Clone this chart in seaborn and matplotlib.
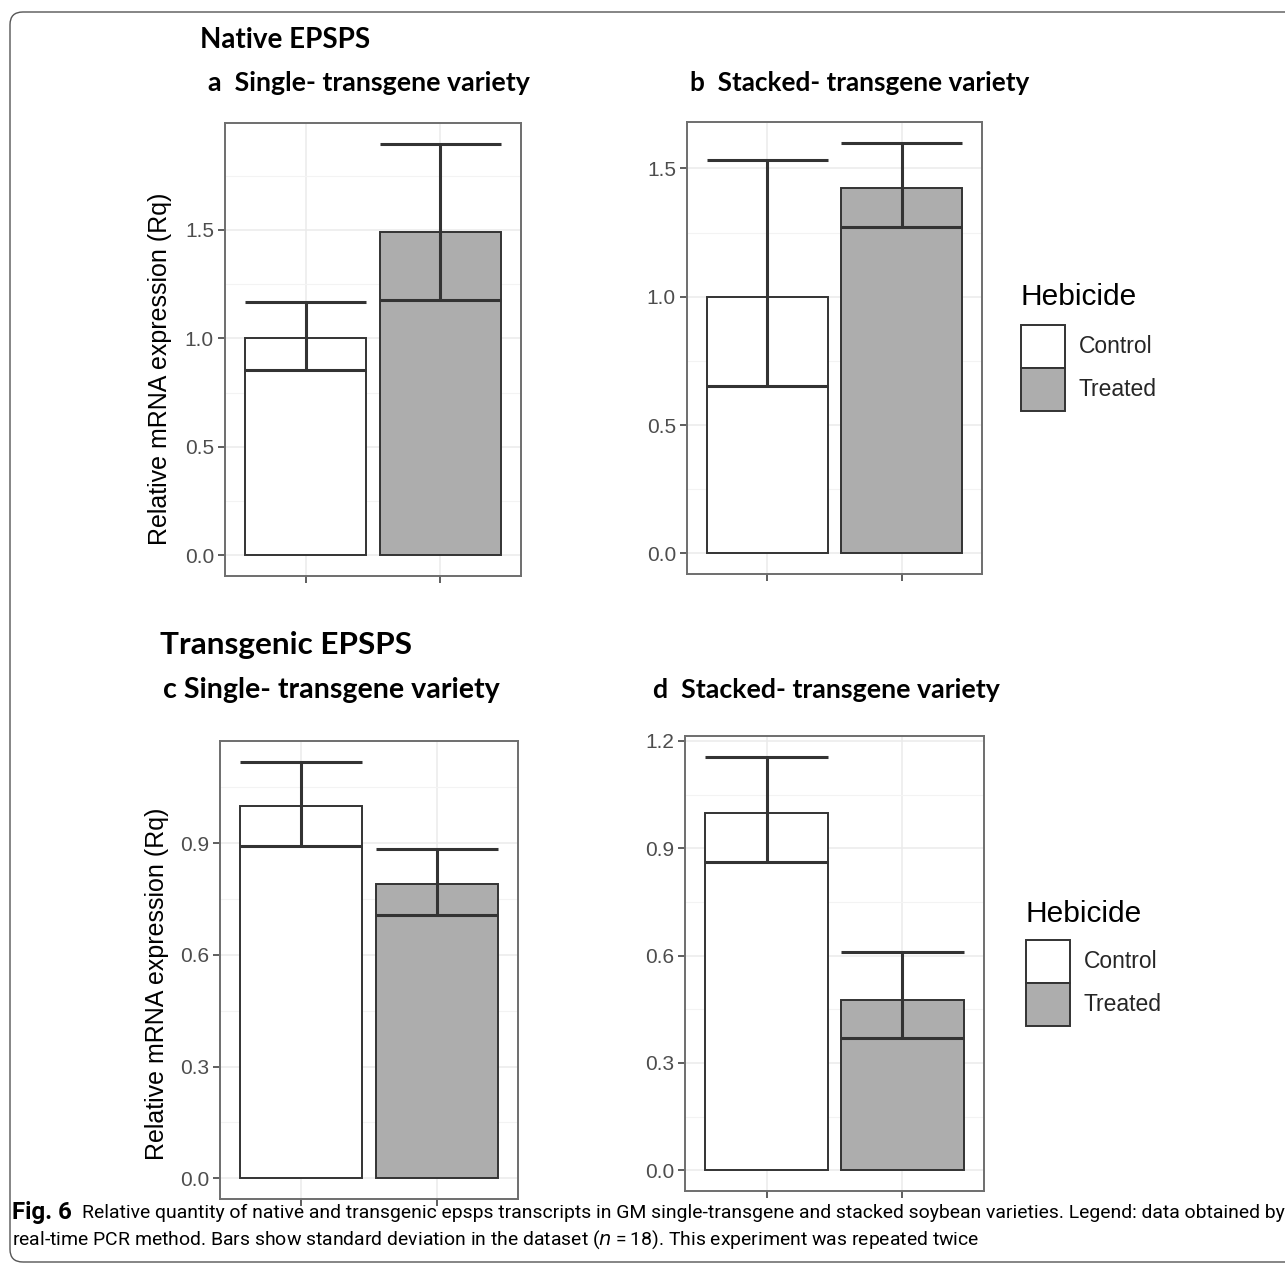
import matplotlib
matplotlib.use("Agg")
import matplotlib.pyplot as plt
from matplotlib.patches import Patch, FancyBboxPatch
import pandas as pd
import numpy as np
import seaborn as sns

# values (Rq mean, lower and upper end of the SD bar)
groups = ["Control", "Treated"]
native_single = [1.00, 1.49]
native_single_lo = [0.855, 1.178]
native_single_hi = [1.167, 1.898]
native_stacked = [1.00, 1.425]
native_stacked_lo = [0.652, 1.270]
native_stacked_hi = [1.532, 1.601]
trans_single = [1.00, 0.791]
trans_single_lo = [0.893, 0.708]
trans_single_hi = [1.119, 0.884]
trans_stacked = [1.00, 0.475]
trans_stacked_lo = [0.863, 0.369]
trans_stacked_hi = [1.156, 0.610]

ticks_a = [0.0, 0.5, 1.0, 1.5]
ticks_c = [0.0, 0.3, 0.6, 0.9, 1.2]

W, H = 1285, 1265
sns.set_theme(style="white")
plt.rcParams["font.family"] = ["Liberation Sans", "DejaVu Sans"]

fig = plt.figure(figsize=(W / 100, H / 100), dpi=100)
fig.patch.set_facecolor("white")

palette = {"Control": "#FFFFFF", "Treated": "#ADADAD"}
edge = "#333333"


def px_axes(left, top, right, bottom):
    return fig.add_axes([left / W, 1 - bottom / H, (right - left) / W, (bottom - top) / H])


def panel(ax, means, lo, hi, ticks, ylabel, label_pos=None):
    df = pd.DataFrame({"Hebicide": groups, "Rq": means})
    sns.barplot(data=df, x="Hebicide", y="Rq", hue="Hebicide", palette=palette,
                width=0.9, edgecolor=edge, linewidth=1.4, errorbar=None,
                legend=False, ax=ax, zorder=3)
    xs = np.arange(len(groups))
    ax.vlines(xs, lo, hi, color=edge, lw=2.2, zorder=4)
    ax.hlines(lo, xs - 0.45, xs + 0.45, color=edge, lw=2.2, zorder=4)
    ax.hlines(hi, xs - 0.45, xs + 0.45, color=edge, lw=2.2, zorder=4)
    top = max(hi)
    ax.set_ylim(-0.05 * top, 1.05 * top)
    ax.set_xlim(-0.6, 1.6)
    ax.set_yticks(ticks)
    ax.set_yticklabels([f"{t:.1f}" for t in ticks])
    step = ticks[1] - ticks[0]
    ax.set_yticks(np.arange(step / 2, 1.05 * top, step), minor=True)
    ax.set_xticks(xs)
    ax.set_xticklabels([])
    ax.set_xlabel("")
    ax.set_ylabel(ylabel, fontsize=18, color="black")
    if label_pos is not None:
        ax.yaxis.set_label_coords(*label_pos)
    ax.grid(True, which="major", color="#EBEBEB", lw=1.1, zorder=0)
    ax.grid(True, which="minor", axis="y", color="#F3F3F3", lw=0.8, zorder=0)
    ax.set_axisbelow(True)
    ax.tick_params(axis="both", which="major", length=5, width=1.1, color="#333333",
                   labelsize=15, labelcolor="#4D4D4D", left=True, bottom=True, pad=3)
    ax.tick_params(which="minor", length=0)
    for s in ax.spines.values():
        s.set_visible(True)
        s.set_color("#6E6E6E")
        s.set_linewidth(1.4)


ylab = "Relative mRNA expression (Rq)"
ax_a = px_axes(225, 123, 521, 576)
panel(ax_a, native_single, native_single_lo, native_single_hi, ticks_a, ylab, (-0.179, 0.457))
ax_b = px_axes(687, 122, 982, 574)
panel(ax_b, native_stacked, native_stacked_lo, native_stacked_hi, ticks_a, "")
ax_c = px_axes(220, 741, 518, 1199)
panel(ax_c, trans_single, trans_single_lo, trans_single_hi, ticks_c[:4], ylab, (-0.17, 0.469))
ax_d = px_axes(685, 736, 984, 1191)
panel(ax_d, trans_stacked, trans_stacked_lo, trans_stacked_hi, ticks_c, "")

# legends: title as separate text, entries as stacked keys
handles = [Patch(facecolor=palette[g], edgecolor=edge, linewidth=1.4) for g in groups]
for ax, (lx, ty, ky) in [(ax_b, (1021, 297, 325)), (ax_d, (1026, 914, 940))]:
    fig.text(lx / W, 1 - ty / H, "Hebicide", ha="left", va="center",
             fontsize=21.5, color="black")
    ax.legend(handles, groups, loc="upper left",
              bbox_to_anchor=(lx / W, 1 - ky / H), bbox_transform=fig.transFigure,
              frameon=False, fontsize=16.5,
              handlelength=1.92, handleheight=2.5, labelspacing=0.0,
              handletextpad=0.6, borderpad=0, borderaxespad=0)

renderer = fig.canvas.get_renderer()


def fit_text(x, y, s, width, family, weight="bold", size=20):
    t = fig.text(x / W, 1 - y / H, s, ha="left", va="center", fontsize=size,
                 family=family, weight=weight, color="black")
    w = t.get_window_extent(renderer).width
    t.set_fontsize(size * width / w)
    return t


title_font = ["Lato", "DejaVu Sans"]
fit_text(200, 40, "Native EPSPS", 170, title_font)
fit_text(208, 83, "a  Single- transgene variety", 322, title_font)
fit_text(690, 83, "b  Stacked- transgene variety", 340, title_font)
fit_text(160, 645, "Transgenic EPSPS", 252, title_font)
fit_text(163, 690, "c Single- transgene variety", 337, title_font)
fit_text(653, 690, "d  Stacked- transgene variety", 348, title_font)

cap_font = ["Roboto", "DejaVu Sans"]
fit_text(12, 1213, "Fig. 6", 60, cap_font)
rest1 = ("Relative quantity of native and transgenic epsps transcripts in GM single-transgene "
         "and stacked soybean varieties. Legend: data obtained by")
t1 = fit_text(82, 1213, rest1, 1198, cap_font, weight="normal")
fs = t1.get_fontsize()
fig.text(12 / W, 1 - 1240 / H,
         "real-time PCR method. Bars show standard deviation in the dataset ($\\it{n}$\u2009=\u200918). "
         "This experiment was repeated twice",
         ha="left", va="center", fontsize=fs, family=cap_font, color="black")

frame = FancyBboxPatch((10 / W, 1 - 1262 / H), 1.05, (1262 - 12) / H,
                       boxstyle="round,pad=0,rounding_size=0.01",
                       transform=fig.transFigure, fill=False,
                       edgecolor="#555555", lw=1.0)
fig.patches.append(frame)

plt.savefig("out.png", dpi=100)
